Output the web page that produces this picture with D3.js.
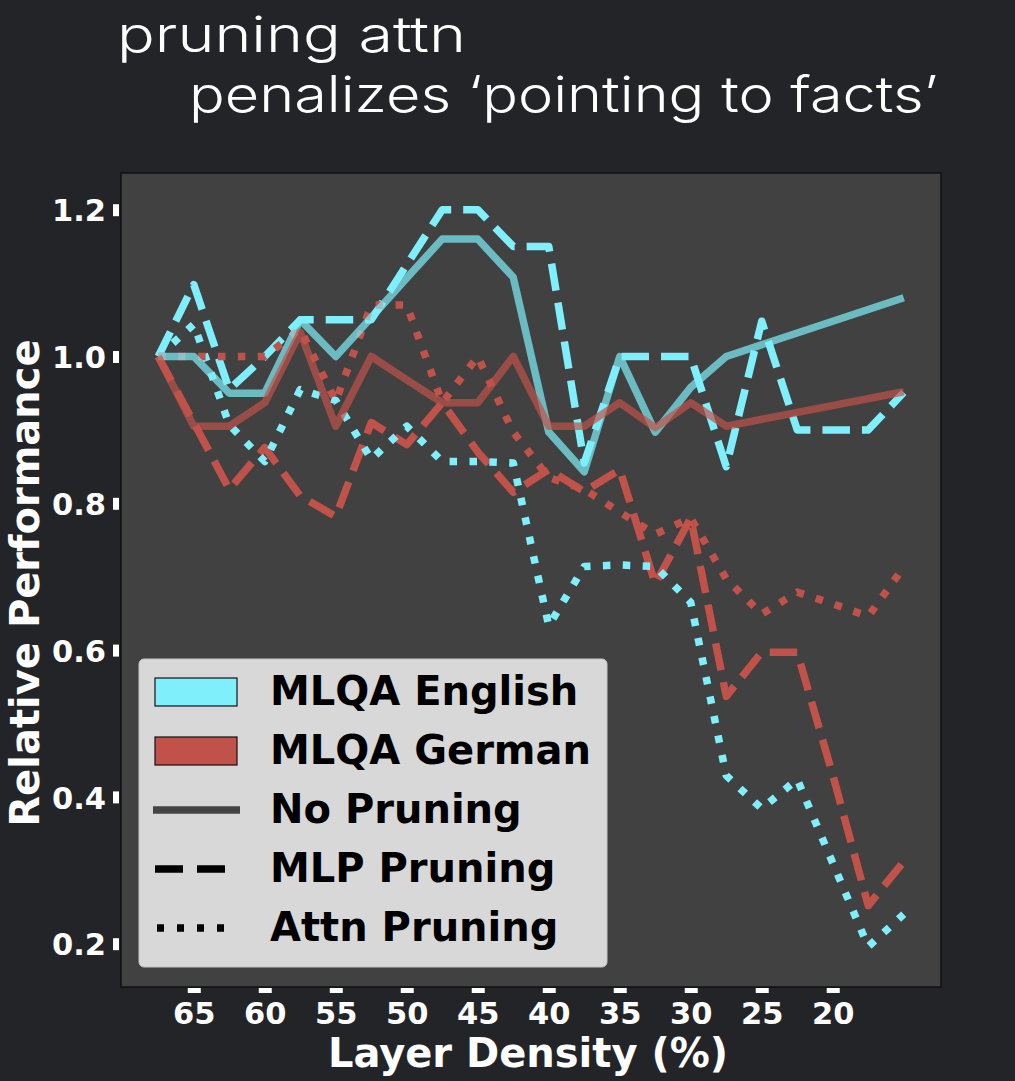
<!DOCTYPE html>
<html>
<head>
<meta charset="utf-8">
<script src="https://cdn.jsdelivr.net/npm/d3@7"></script>
<style>
  html, body { margin: 0; padding: 0; background: #232428; }
  svg { display: block; }
</style>
</head>
<body>
<svg id="chart"></svg>
<script>
// layer density on the x axis (%), plotted right-to-left
const densities = [67.5, 65, 62.5, 60, 57.5, 55, 52.5, 50, 47.5, 45, 42.5, 40, 37.5, 35, 32.5, 30, 27.5, 25, 22.5, 20, 17.5, 15];

// relative performance (null = no point there)
const enNone = [1.0, 1.0, 0.95, 0.95, 1.05, 1.0, 1.053, 1.107, 1.16, 1.16, 1.108, 0.897, 0.843, 1.0, 0.897, 0.958, 1.0, null, null, null, null, 1.08];
const deNone = [1.0, 0.905, 0.905, 0.937, 1.033, 0.905, 1.0, 0.968, 0.937, 0.937, 1.0, 0.905, 0.905, 0.937, 0.903, 0.937, 0.905, null, null, null, null, 0.952];
const enMlp = [1.0, 1.098, 0.955, 1.0, 1.05, 1.05, 1.05, 1.125, 1.2, 1.2, 1.15, 1.15, 0.855, 1.0, 1.0, 1.0, 0.85, 1.048, 0.9, 0.9, 0.9, 0.951];
const deMlp = [1.0, 0.91, 0.819, 0.876, 0.81, 0.782, 0.91, 0.88, 0.937, 0.87, 0.815, 0.846, 0.816, 0.846, 0.69, 0.78, 0.537, 0.597, 0.597, 0.43, 0.252, 0.312];
const enAttn = [1.0, 1.044, 0.907, 0.857, 0.955, 0.94, 0.86, 0.905, 0.857, 0.857, 0.855, 0.633, 0.714, 0.716, 0.714, 0.665, 0.429, 0.384, 0.424, 0.31, 0.196, 0.24];
const deAttn = [1.0, 1.0, 1.0, 1.0, 1.037, 0.939, 1.07, 1.07, 0.937, 1.0, 0.897, 0.835, 0.819, 0.788, 0.758, 0.78, 0.697, 0.649, 0.679, 0.663, 0.646, 0.713];

const xTicks = [65, 60, 55, 50, 45, 40, 35, 30, 25, 20];
const yTicks = [0.2, 0.4, 0.6, 0.8, 1.0, 1.2];

const languages = ["MLQA English", "MLQA German"];
const methods = ["No Pruning", "MLP Pruning", "Attn Pruning"];
const titleLines = ["pruning attn", "penalizes \u2018pointing to facts\u2019"];

const w = 1015;
const h = 1081;
const plot = {left: 121, right: 941, top: 173, bottom: 987};

const cyan = "#7eeffb";
const red = "#c0524a";

const svg = d3.select("#chart").attr("width", w).attr("height", h);

svg.append("rect").attr("width", w).attr("height", h).attr("fill", "#232428");

// title (a light geometric face, squeezed to the widths seen in the picture)
const title = svg.append("g").attr("fill", "#ffffff")
  .style("font-family", "Inter, 'Noto Sans', sans-serif")
  .style("font-weight", 300)
  .style("font-size", "50px");
title.append("text").attr("x", 117).attr("y", 52)
  .attr("textLength", 349).attr("lengthAdjust", "spacingAndGlyphs")
  .text(titleLines[0]);
title.append("text").attr("x", 189).attr("y", 112)
  .attr("textLength", 749).attr("lengthAdjust", "spacingAndGlyphs")
  .text(titleLines[1]);

// scales
const xScale = d3.scaleLinear().domain([70.125, 12.375]).range([plot.left, plot.right]);
const yScale = d3.scaleLinear().domain([0.141, 1.25]).range([plot.bottom, plot.top]);

svg.append("rect")
  .attr("x", plot.left).attr("y", plot.top)
  .attr("width", plot.right - plot.left).attr("height", plot.bottom - plot.top)
  .attr("fill", "#414141");

// lines
const lineGen = d3.line()
  .x(d => xScale(d[0]))
  .y(d => yScale(d[1]));

const pts = arr => densities.map((d, i) => [d, arr[i]]).filter(p => p[1] !== null);

const series = [
  {vals: enMlp, color: cyan, dash: "27.5,12", op: 1},
  {vals: deMlp, color: red, dash: "27.5,12", op: 1},
  {vals: enAttn, color: cyan, dash: "7.5,12.4", op: 1},
  {vals: deAttn, color: red, dash: "7.5,12.4", op: 1},
  {vals: enNone, color: cyan, dash: null, op: 0.7},
  {vals: deNone, color: red, dash: null, op: 0.7}
];

svg.append("clipPath").attr("id", "plotclip")
  .append("rect")
  .attr("x", plot.left).attr("y", plot.top)
  .attr("width", plot.right - plot.left).attr("height", plot.bottom - plot.top);

const lines = svg.append("g").attr("clip-path", "url(#plotclip)");
series.forEach(s => {
  lines.append("path")
    .datum(pts(s.vals))
    .attr("d", lineGen)
    .attr("fill", "none")
    .attr("stroke", s.color)
    .attr("stroke-width", 7.5)
    .attr("stroke-opacity", s.op)
    .attr("stroke-dasharray", s.dash)
    .attr("stroke-linejoin", "round")
    .attr("stroke-linecap", "butt");
});

// frame
svg.append("rect")
  .attr("x", plot.left).attr("y", plot.top)
  .attr("width", plot.right - plot.left).attr("height", plot.bottom - plot.top)
  .attr("fill", "none").attr("stroke", "#111111").attr("stroke-width", 1.5);

// axes
const xAxis = d3.axisBottom(xScale).tickValues(xTicks).tickFormat(d3.format("d"))
  .tickSize(5).tickPadding(9);
const gx = svg.append("g").attr("transform", "translate(0," + (plot.bottom + 1) + ")").call(xAxis);

const yAxis = d3.axisLeft(yScale).tickValues(yTicks).tickFormat(d3.format(".1f"))
  .tickSize(6).tickPadding(7);
const gy = svg.append("g").attr("transform", "translate(" + (plot.left - 2) + ",0)").call(yAxis);

[gx, gy].forEach(g => {
  g.select(".domain").remove();
  g.selectAll(".tick line").attr("stroke", "#ffffff");
  g.selectAll(".tick text")
    .attr("fill", "#ffffff")
    .style("font-family", "'DejaVu Sans', sans-serif")
    .style("font-weight", "bold")
    .style("font-size", "30.5px");
});
gx.selectAll(".tick line").attr("stroke-width", 13);
gy.selectAll(".tick line").attr("stroke-width", 12);
gy.selectAll(".tick text").attr("dy", "0.37em");

// axis titles
const labelStyle = sel => sel
  .attr("fill", "#ffffff")
  .style("font-family", "'DejaVu Sans', sans-serif")
  .style("font-weight", "bold")
  .style("font-size", "40px")
  .attr("text-anchor", "middle");

svg.append("text").attr("x", (plot.left + plot.right) / 2 - 3).attr("y", 1067)
  .call(labelStyle).text("Layer Density (%)");

svg.append("text").attr("transform", "translate(39," + ((plot.top + plot.bottom) / 2 + 3) + ") rotate(-90)")
  .call(labelStyle).text("Relative Performance");

// legend
const legend = svg.append("g");
legend.append("rect")
  .attr("x", 139).attr("y", 659).attr("width", 468).attr("height", 308)
  .attr("rx", 5)
  .attr("fill", "#d8d8d8").attr("stroke", "#c4c4c4").attr("stroke-width", 1);

const rowY = [692, 751, 810, 869, 928];
const legendItems = [
  {label: languages[0], kind: "patch", color: cyan},
  {label: languages[1], kind: "patch", color: red},
  {label: methods[0], kind: "line", dash: null, color: "#444444", x1: 153, x2: 240},
  {label: methods[1], kind: "line", dash: "28,14", color: "#000000", x1: 155, x2: 225},
  {label: methods[2], kind: "line", dash: "7,13", color: "#000000", x1: 157, x2: 226}
];

legendItems.forEach((item, i) => {
  const cy = rowY[i];
  if (item.kind === "patch") {
    legend.append("rect")
      .attr("x", 155).attr("y", cy - 14).attr("width", 82).attr("height", 28)
      .attr("fill", item.color).attr("stroke", "#111111").attr("stroke-width", 1.2);
  } else {
    legend.append("line")
      .attr("x1", item.x1).attr("x2", item.x2).attr("y1", cy).attr("y2", cy)
      .attr("stroke", item.color).attr("stroke-width", 7.5)
      .attr("stroke-dasharray", item.dash);
  }
  legend.append("text")
    .attr("x", 270).attr("y", cy + 13)
    .attr("fill", "#000000")
    .style("font-family", "'DejaVu Sans', sans-serif")
    .style("font-weight", "bold")
    .style("font-size", "40px")
    .text(item.label);
});
</script>
</body>
</html>
